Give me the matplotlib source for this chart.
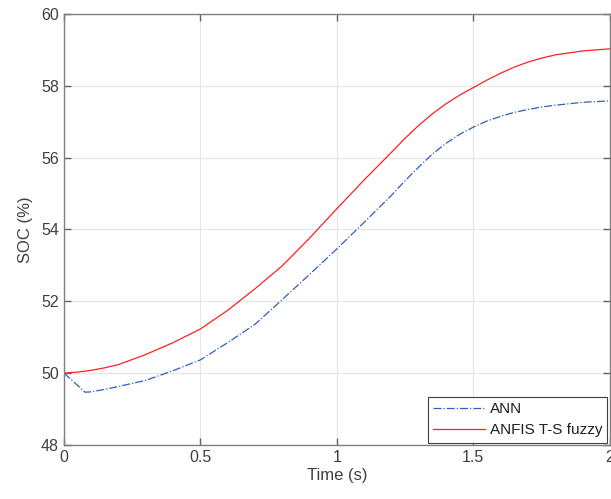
import matplotlib.pyplot as plt

# values
time_ann = [0, 0.05, 0.077, 0.1, 0.15, 0.2, 0.3, 0.4, 0.5, 0.6, 0.7, 0.8, 0.9, 1.0,
            1.1, 1.2, 1.25, 1.3, 1.35, 1.4, 1.45, 1.5, 1.55, 1.6, 1.65, 1.7, 1.75, 1.8, 1.9, 2.0]
soc_ann = [50.0, 49.66, 49.47, 49.48, 49.55, 49.63, 49.8, 50.07, 50.37, 50.85, 51.36, 52.05,
           52.75, 53.46, 54.2, 54.95, 55.36, 55.74, 56.1, 56.4, 56.65, 56.85, 57.02, 57.15,
           57.26, 57.34, 57.41, 57.46, 57.54, 57.58]
time_anfis = [0, 0.05, 0.1, 0.15, 0.2, 0.3, 0.4, 0.5, 0.6, 0.7, 0.8, 0.9, 1.0,
              1.1, 1.2, 1.25, 1.3, 1.35, 1.4, 1.45, 1.5, 1.55, 1.6, 1.65, 1.7, 1.75, 1.8, 1.9, 2.0]
soc_anfis = [50.0, 50.03, 50.08, 50.15, 50.24, 50.52, 50.85, 51.23, 51.75, 52.35, 52.99, 53.76,
             54.58, 55.38, 56.15, 56.54, 56.9, 57.22, 57.5, 57.74, 57.95, 58.16, 58.35, 58.52,
             58.66, 58.77, 58.86, 58.97, 59.03]

plt.rcParams['font.family'] = ['Liberation Sans', 'DejaVu Sans']

fig = plt.figure(figsize=(6.11, 4.99), dpi=100)
ax = fig.add_axes([0.1047, 0.1082, 0.8933, 0.8638])

ax.plot(time_ann, soc_ann, color='#2f5fbf', linestyle='-.', linewidth=0.9, label='ANN')
ax.plot(time_anfis, soc_anfis, color='#ff2020', linestyle='-', linewidth=0.9, label='ANFIS T-S fuzzy')

ax.set_xlim(0, 2)
ax.set_ylim(48, 60)
ax.set_xticks([0, 0.5, 1, 1.5, 2])
ax.set_xticklabels(['0', '0.5', '1', '1.5', '2'])
ax.set_yticks(range(48, 61, 2))

ax.grid(True, color='#e6e6e6', linewidth=0.8)
ax.set_axisbelow(True)
for s in ax.spines.values():
    s.set_color('#808080')
    s.set_linewidth(1.0)
ax.tick_params(direction='in', top=True, right=True, length=5, width=1.0,
               color='#606060', labelcolor='#404040', labelsize=11.5)
ax.set_xlabel('Time (s)', fontsize=12, color='#404040', labelpad=2)
ax.set_ylabel('SOC (%)', fontsize=12, color='#404040', labelpad=6)

leg = ax.legend(loc='lower right', fontsize=11, frameon=True, fancybox=False,
                edgecolor='#404040', framealpha=1, handlelength=3.4,
                borderaxespad=0.15, borderpad=0.35, labelspacing=0.45, handletextpad=0.3)
leg.get_frame().set_linewidth(0.8)
for t in leg.get_texts():
    t.set_color('#202020')

fig.savefig('out.png', dpi=100)
